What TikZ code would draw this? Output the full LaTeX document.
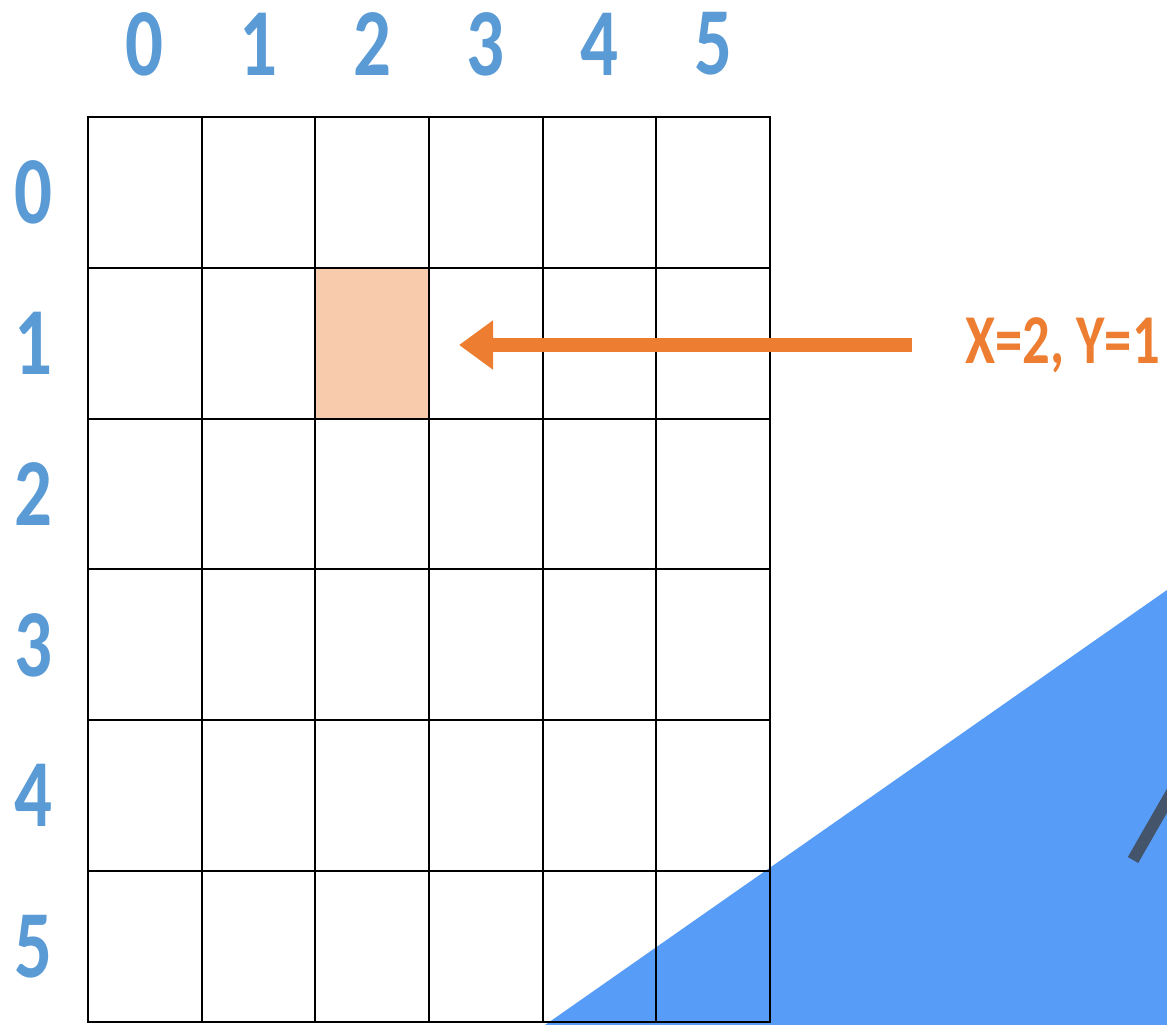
\documentclass[tikz,border=0pt]{standalone}
\usepackage{fontspec}
\setmainfont{Carlito}
\newfontfamily\narrowfont[FakeStretch=0.78]{Carlito}
\usetikzlibrary{arrows.meta}
\definecolor{idxblue}{HTML}{5B9BD5}
\definecolor{markorange}{HTML}{ED7D31}
\definecolor{cellpeach}{HTML}{F8CBAD}
\definecolor{wedgeblue}{HTML}{579DF8}
\definecolor{stickgray}{HTML}{44546A}

\begin{document}
\begin{tikzpicture}[
    x=1pt, y=-1pt,
    cell/.style={rectangle, draw=black, line width=2pt, minimum width=113.67pt, minimum height=150.83pt, inner sep=0pt},
    index/.style={font=\narrowfont\bfseries\fontsize{96}{96}\selectfont, text=idxblue, inner sep=0pt},
    coord/.style={font=\narrowfont\bfseries\fontsize{70}{70}\selectfont, text=markorange, inner sep=0pt, anchor=west},
    pointer/.style={-{Triangle[length=34pt, width=47pt]}, line width=14pt, draw=markorange}
]
\useasboundingbox (0,0) rectangle (1167,1025);

% Blue wedge and stick
\begin{scope}
\clip (0,0) rectangle (1167,1025);
\fill[wedgeblue] (545,1025) -- (1167,590) -- (1167,1025) -- cycle;
\draw[stickgray, line width=12pt] (1133,860) -- (1172,792);
\end{scope}

% Grid
\foreach \x in {0,...,5} {
  \foreach \y in {0,...,5} {
    \node[cell] (c-\x-\y) at ({88+113.67*(\x+0.5)},{117+150.83*(\y+0.5)}) {};
  }
}
\node[cell, fill=cellpeach] at (c-2-1) {};

% Indices
\foreach \i in {0,...,5} {
  \node[index] (col-\i) at ({88+113.67*(\i+0.5)},44) {\i};
  \node[index] (row-\i) at (33,{117+150.83*(\i+0.5)}) {\i};
}

% Label and arrow
\node[coord] (lbl) at (965,345) {X=2, Y=1};
\draw[pointer, shorten <=53pt, shorten >=29pt] (lbl.west) -- (lbl.west -| c-2-1.east);

\end{tikzpicture}
\end{document}
